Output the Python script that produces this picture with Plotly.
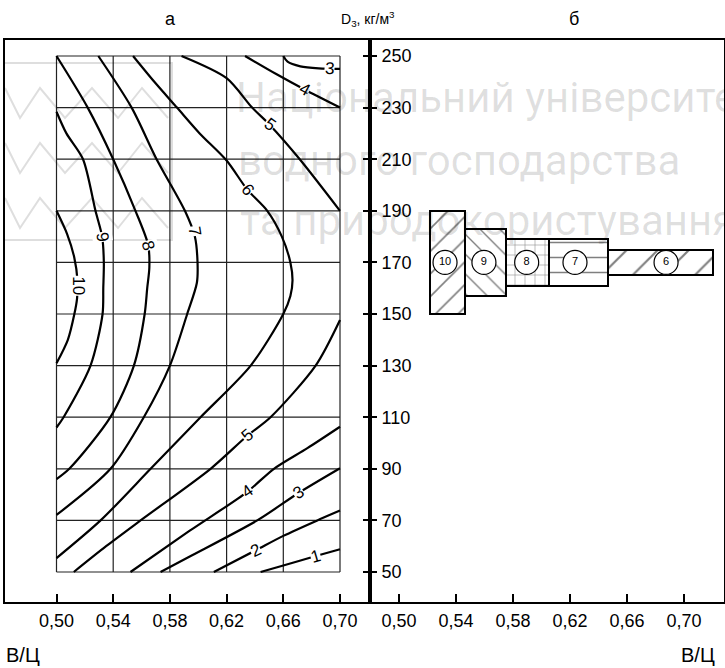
import plotly.graph_objects as go

# ---------------- data ----------------
x_ticks = [0.50, 0.54, 0.58, 0.62, 0.66, 0.70]
x_ticktext = ["0,50", "0,54", "0,58", "0,62", "0,66", "0,70"]
d_ticks = [50, 70, 90, 110, 130, 150, 170, 190, 210, 230, 250]

# iso-lines of panel "а" (В/Ц, D)
c1_x = [0.644, 0.660, 0.683, 0.700]
c1_d = [50, 52.5, 56.2, 58.8]
c2_x = [0.611, 0.6405, 0.660, 0.684, 0.700]
c2_d = [50, 58.4, 64, 70, 73.8]
c3_x = [0.5734, 0.594, 0.6416, 0.671, 0.700]
c3_d = [50, 56, 70, 80.7, 90.2]
c4_x = [0.5522, 0.594, 0.6346, 0.6534, 0.677, 0.700]
c4_d = [50, 66, 81.1, 90, 98, 106.3]
c5_x = [0.5122, 0.535, 0.5593, 0.6087, 0.6346, 0.651, 0.6828, 0.700]
c5_d = [50, 60, 70, 90, 102.8, 110, 130, 147.7]
c6_x = [0.554, 0.569, 0.585, 0.601, 0.620, 0.6346, 0.6487, 0.659, 0.665, 0.6665,
        0.665, 0.660, 0.637, 0.6016, 0.5664, 0.5311, 0.500]
c6_d = [250, 240, 230, 220, 209.5, 198.2, 190, 180, 170, 163,
        157, 150, 130, 110, 90, 70, 55.4]
c7_x = [0.5295, 0.553, 0.5706, 0.5906, 0.5976, 0.5995, 0.599, 0.5922, 0.580, 0.5616, 0.5381, 0.500]
c7_d = [250, 230, 210, 190, 180, 170, 162, 150, 130, 110, 90, 72.1]
c8_x = [0.500, 0.522, 0.540, 0.5557, 0.5647, 0.5655, 0.564, 0.5622, 0.5546, 0.538, 0.509, 0.500]
c8_d = [250, 230, 210, 190, 176.7, 168, 160, 150, 130, 110, 90, 86]
c9_x = [0.500, 0.507, 0.5187, 0.5275, 0.5322, 0.5334, 0.533, 0.5325, 0.524, 0.505, 0.500]
c9_d = [228.4, 220, 210, 190, 180, 170, 160, 150, 130, 110, 106]
c10_x = [0.500, 0.5075, 0.5125, 0.5148, 0.5145, 0.5126, 0.508, 0.500]
c10_d = [190, 181, 172, 163, 156, 150, 140, 130.9]
c5u_x = [0.5882, 0.620, 0.638, 0.6505, 0.6716, 0.700]
c5u_d = [250, 241.4, 230, 223.3, 210, 190]
c4u_x = [0.633, 0.655, 0.675, 0.700]
c4u_d = [250, 243, 237, 230]
c3u_x = [0.660, 0.663, 0.672, 0.685, 0.700]
c3u_d = [250, 247.8, 246, 245.2, 245]

curves = [(c1_x, c1_d), (c2_x, c2_d), (c3_x, c3_d), (c4_x, c4_d), (c5_x, c5_d),
          (c6_x, c6_d), (c7_x, c7_d), (c8_x, c8_d), (c9_x, c9_d), (c10_x, c10_d),
          (c5u_x, c5u_d), (c4u_x, c4u_d), (c3u_x, c3u_d)]

# inline labels of the iso-lines
lab_text = ["1", "2", "3", "4", "5", "6", "7", "8", "9", "10", "5", "4", "3"]
lab_x = [0.6828, 0.6405, 0.671, 0.6346, 0.6346, 0.6346, 0.5976, 0.5647, 0.5322, 0.5154, 0.6505, 0.6752, 0.6928]
lab_d = [56.2, 58.4, 80.7, 81.1, 102.8, 198.2, 182, 176.7, 180, 161, 223.3, 237.0, 245.0]
lab_angle = [-16, -26, -32, -35, -41, 52, 81, 75, 81, 90, 36, 29, 4]

# panel "б": ranges of В/Ц and D for each class
cls = ["10", "9", "8", "7", "6"]
bar_x0 = [0.522, 0.546, 0.575, 0.605, 0.647]
bar_x1 = [0.546, 0.575, 0.605, 0.647, 0.720]
bar_d0 = [150, 157, 161, 161, 165]
bar_d1 = [190, 183, 179, 179, 175]
circle_x = [0.5323, 0.5596, 0.5896, 0.6235, 0.6874]
circle_d = [170, 170, 170, 170, 170]
patterns = ["/", "\\", "+", "-", "/"]
pat_size = [16, 14, 10, 15, 22]

W, H = 725, 668
FONT = "Liberation Sans, Arial, sans-serif"

def px(v):
    return v / W

def py(v):
    return 1 - v / H

# axis geometry
y_dom = [py(602), py(40)]
d_per_px = 20 / 51.6
y_range = [50 - (602 - 572) * d_per_px, 250 + (56 - 40) * d_per_px]
xl_per_px = 0.2 / 283.5
xl_range = [0.50 - (56.5 - 5) * xl_per_px, 0.70 + (370 - 340) * xl_per_px]
xr_per_px = 0.2 / 285
xr_range = [0.50 - (399 - 370) * xr_per_px, 0.70 + (724 - 684) * xr_per_px]

fig = go.Figure()

# iso-lines
for cx, cd in curves:
    fig.add_trace(go.Scatter(x=cx, y=cd, mode="lines", xaxis="x", yaxis="y",
                             line=dict(color="black", width=2.2, shape="spline", smoothing=0.8),
                             hoverinfo="skip"))

# bars (panel б)
fig.add_trace(go.Bar(
    orientation="h", xaxis="x2", yaxis="y2",
    y=[(a + b) / 2 for a, b in zip(bar_d0, bar_d1)],
    width=[b - a for a, b in zip(bar_d0, bar_d1)],
    base=bar_x0,
    x=[b - a for a, b in zip(bar_x0, bar_x1)],
    marker=dict(color="white", line=dict(color="black", width=2),
                pattern=dict(shape=patterns, size=pat_size, solidity=0.1,
                             fgcolor="black", bgcolor="white", fillmode="overlay")),
    hoverinfo="skip"))

fig.add_trace(go.Scatter(
    x=circle_x, y=circle_d, xaxis="x2", yaxis="y2", mode="markers+text",
    text=cls, textposition="middle center",
    textfont=dict(family=FONT, size=11, color="black"),
    marker=dict(symbol="circle", size=24, color="white", line=dict(color="black", width=1.2)),
    hoverinfo="skip"))

shapes = []
# grid of panel а
for xv in x_ticks:
    shapes.append(dict(type="line", xref="x", yref="y", x0=xv, x1=xv, y0=d_ticks[0], y1=d_ticks[-1],
                       line=dict(color="#222", width=1.2), layer="below"))
for dv in d_ticks:
    shapes.append(dict(type="line", xref="x", yref="y", x0=x_ticks[0], x1=x_ticks[-1], y0=dv, y1=dv,
                       line=dict(color="#222", width=1.2), layer="below"))

# watermark logo
wm = "rgba(0,0,0,0.13)"
shapes.append(dict(type="path", xref="paper", yref="paper",
                   path=f"M {px(5)},{py(63)} L {px(172)},{py(63)} L {px(172)},{py(240)} L {px(5)},{py(240)}",
                   line=dict(color=wm, width=2), layer="above"))
for k in range(3):
    yt, yb = 88 + 55 * k, 118 + 55 * k
    xs = [5, 20, 40, 65, 92, 118, 142, 168]
    ys = [yt, yb, yt, yb, yt, yb, yt, yb]
    path = "M " + " L ".join(f"{px(a)},{py(b)}" for a, b in zip(xs, ys))
    shapes.append(dict(type="path", xref="paper", yref="paper", path=path,
                       line=dict(color=wm, width=2), layer="above"))

annotations = []
for t, xv, dv, ang in zip(lab_text, lab_x, lab_d, lab_angle):
    annotations.append(dict(x=xv, y=dv, xref="x", yref="y", text=t, showarrow=False,
                            textangle=ang, bgcolor="white", borderpad=0,
                            xanchor="center", yanchor="middle",
                            font=dict(family=FONT, size=17, color="black")))

annotations += [
    dict(x=px(170), y=py(19), xref="paper", yref="paper", text="а", showarrow=False,
         xanchor="center", yanchor="middle", font=dict(family=FONT, size=18, color="black")),
    dict(x=px(574), y=py(19), xref="paper", yref="paper", text="б", showarrow=False,
         xanchor="center", yanchor="middle", font=dict(family=FONT, size=18, color="black")),
    dict(x=px(368), y=py(19), xref="paper", yref="paper", text="D<sub>3</sub>, кг/м<sup>3</sup>",
         showarrow=False, xanchor="center", yanchor="middle",
         font=dict(family=FONT, size=14, color="black")),
    dict(x=px(4), y=py(655), xref="paper", yref="paper", text="В/Ц", showarrow=False,
         xanchor="left", yanchor="middle", font=dict(family=FONT, size=20, color="black")),
    dict(x=px(679), y=py(655), xref="paper", yref="paper", text="В/Ц", showarrow=False,
         xanchor="left", yanchor="middle", font=dict(family=FONT, size=20, color="black")),
]

wm_lines = ["Національний університет", "водного господарства", "та природокористування"]
wm_y = [97, 160, 220]
wm_x = [234, 236, 238]
for t, yy, xx in zip(wm_lines, wm_y, wm_x):
    annotations.append(dict(x=px(xx), y=py(yy), xref="paper", yref="paper", text=t,
                            showarrow=False, xanchor="left", yanchor="middle",
                            font=dict(family="Roboto, sans-serif", size=42, color=wm)))

axis_common = dict(showgrid=False, zeroline=False, showline=True, linecolor="black", linewidth=2,
                   mirror=True, tickcolor="black", tickwidth=1.5)

fig.update_layout(
    width=W, height=H, margin=dict(l=0, r=0, t=0, b=0),
    paper_bgcolor="white", plot_bgcolor="white", showlegend=False,
    bargap=0,
    xaxis=dict(domain=[px(5), px(370)], range=xl_range, anchor="y",
               tickvals=x_ticks, ticktext=x_ticktext, ticks="inside", ticklen=8,
               tickfont=dict(family=FONT, size=18, color="black"), ticklabelstandoff=1,
               **axis_common),
    # left panel y axis sits on the middle line: ticks + labels point into panel б
    yaxis=dict(domain=y_dom, range=y_range, anchor="x", side="right",
               tickvals=d_ticks, ticks="outside", ticklen=5, showticklabels=True,
               tickfont=dict(family=FONT, size=18, color="black"), ticklabelstandoff=1,
               **axis_common),
    xaxis2=dict(domain=[px(370), px(724)], range=xr_range, anchor="y2",
                tickvals=x_ticks, ticktext=x_ticktext, ticks="inside", ticklen=8,
                tickfont=dict(family=FONT, size=18, color="black"), ticklabelstandoff=1,
                **axis_common),
    yaxis2=dict(domain=y_dom, range=y_range, anchor="x2", side="left",
                tickvals=d_ticks, ticks="outside", ticklen=5, showticklabels=False,
                **axis_common),
    shapes=shapes, annotations=annotations,
)

fig.write_html("out.html")
